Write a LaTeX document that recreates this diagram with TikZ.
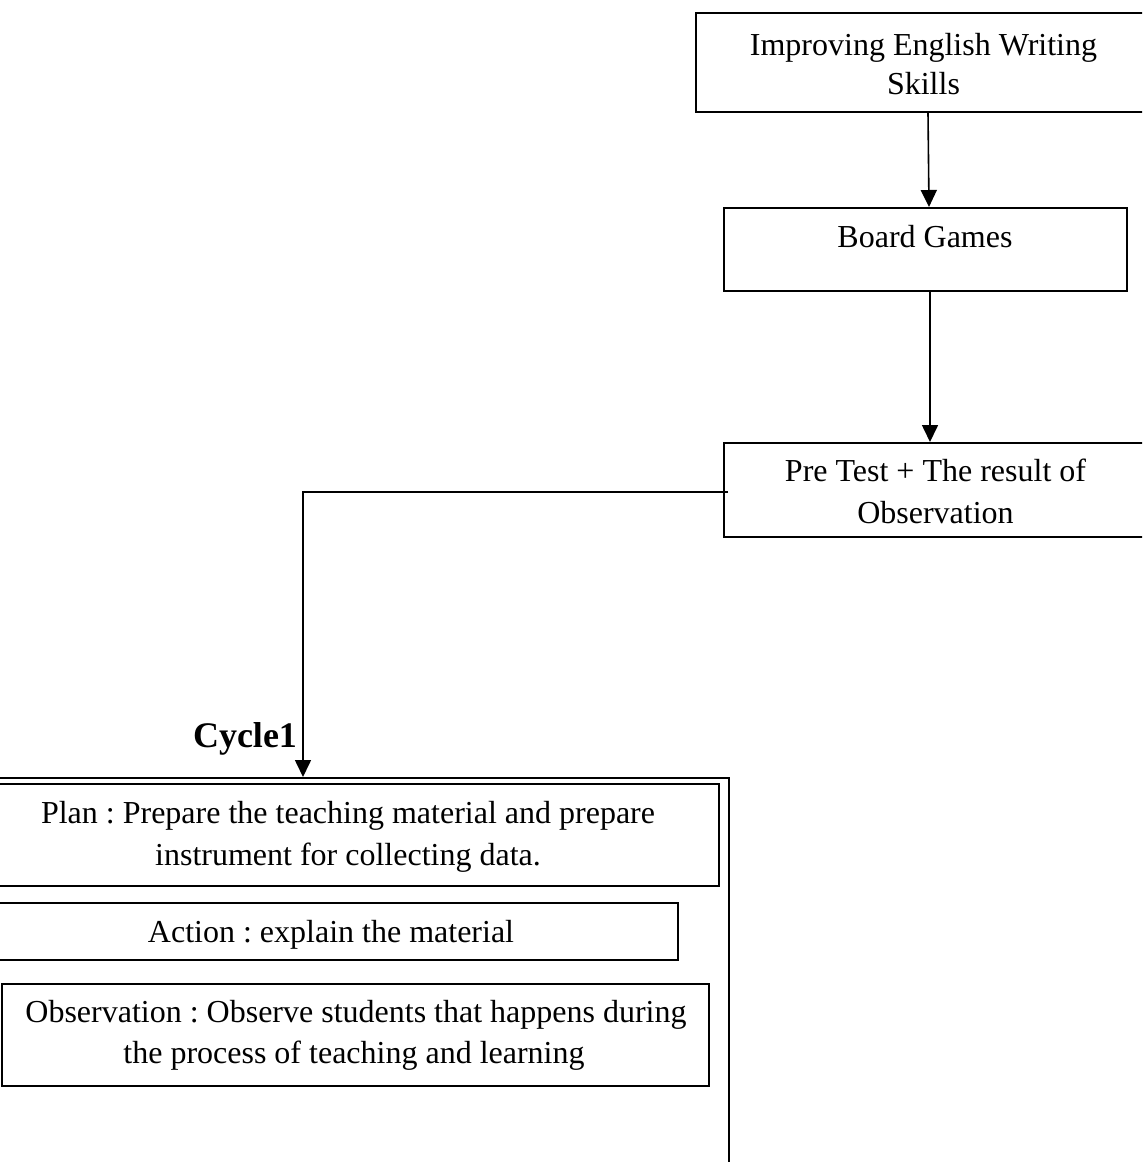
\documentclass[tikz,border=0pt]{standalone}
\usepackage{fontspec}
\setmainfont{Liberation Serif}
\usetikzlibrary{arrows.meta}
\frenchspacing
\begin{document}
\begin{tikzpicture}[x=0.5pt,y=-0.5pt,
  box/.style={draw, line width=1pt, rectangle, inner sep=0pt, anchor=north west},
  txt/.style={anchor=base, inner sep=0pt, font=\fontsize{16}{19}\selectfont},
  cyc/.style={anchor=base, inner sep=0pt, font=\fontsize{18}{22}\selectfont\bfseries},
  arr/.style={line width=0.8pt, -{Triangle[length=8.5pt,width=8pt]}}]
\useasboundingbox (0,0) rectangle (1142,1162);
\begin{scope}
\clip (0,0) rectangle (1142,1162);
% boxes
\node[box, minimum width=228.5pt, minimum height=49.5pt] (b1) at (695,12) {};
\node[box, minimum width=201.5pt, minimum height=41.5pt] (b2) at (723,207) {};
\node[box, minimum width=214.5pt, minimum height=47pt] (b3) at (723,442) {};
\node[box, minimum width=384pt, minimum height=211.5pt] (frame) at (-40,777) {};
\node[box, minimum width=370pt, minimum height=51pt] (plan) at (-22,783) {};
\node[box, minimum width=346pt, minimum height=28.5pt] (act) at (-15,902) {};
\node[box, minimum width=353.5pt, minimum height=51pt] (obs) at (1,983) {};
% texts
\node[txt] (t1a) at (923.5,55) {Improving English Writing};
\node[txt] (t1b) at (923.5,94) {Skills};
\node[txt] (t2) at (925,247) {Board Games};
\node[txt] (t3a) at (935.5,481) {Pre Test + The result of};
\node[txt] (t3b) at (935.5,523) {Observation};
\node[txt] (p1) at (348,823) {Plan : Prepare the teaching material and prepare};
\node[txt] (p2) at (348,865) {instrument for collecting data.};
\node[txt] (a1) at (331,942) {Action : explain the material};
\node[txt] (o1) at (356,1022) {Observation : Observe students that happens during};
\node[txt] (o2) at (354,1063) {the process of teaching and learning};
\node[cyc] (cycle) at (245,747) {Cycle1};
% helper coordinates
\coordinate (xa) at (928,0);
\coordinate (xb) at (929,0);
\coordinate (xc) at (930,0);
\coordinate (xd) at (303,0);
\coordinate (ly) at (0,492);
% connectors
\draw[arr] (b1.south -| xa) -- (b2.north -| xb);
\draw[arr] (b2.south -| xc) -- (b3.north -| xc);
\draw[arr] ([xshift=2.5pt]b3.west |- ly) -| (frame.north -| xd);
\end{scope}
\end{tikzpicture}
\end{document}
